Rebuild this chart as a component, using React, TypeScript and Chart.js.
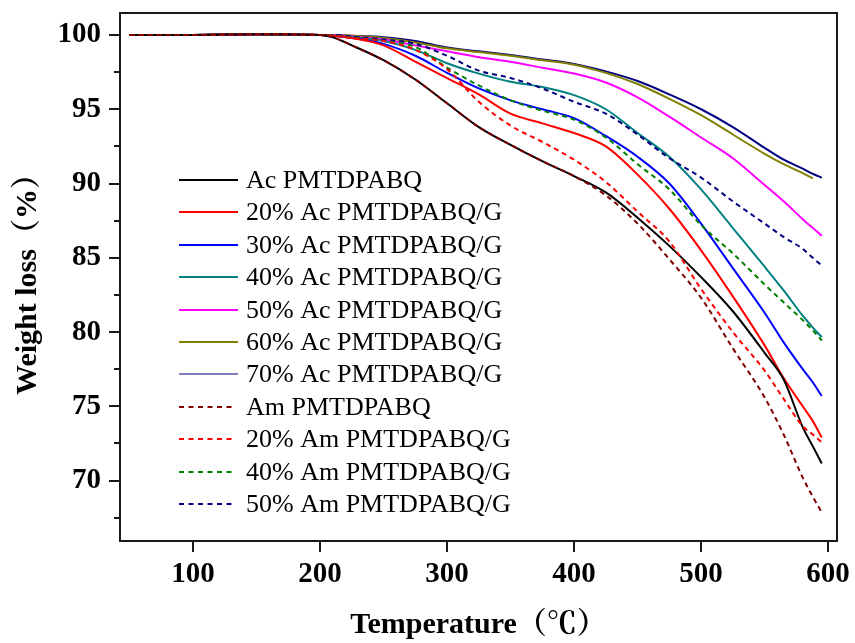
import { useEffect, useRef } from 'react';
import { Chart, registerables } from 'chart.js';

Chart.register(...registerables);

// Temperature (°C) sample points shared by all curves
const temperatures = [50, 100, 150, 200, 210, 225, 250, 275, 300, 325, 350, 375, 400, 425, 450, 475, 500, 525, 550, 565, 580, 588, 595];

// Weight loss (%) for each sample
const acPure = [100, 100, 100.05, 100, 99.85, 99.3, 98.3, 97.0, 95.4, 93.8, 92.6, 91.5, 90.5, 89.4, 87.7, 85.8, 83.7, 81.4, 78.6, 76.8, 73.6, 72.3, 71.15];
const ac20 = [100, 100, 100.05, 100, 99.95, 99.8, 99.3, 98.2, 97.1, 96.0, 94.7, 94.05, 93.4, 92.5, 90.6, 88.3, 85.5, 82.4, 79.1, 76.9, 75.0, 74.0, 72.9];
const ac30 = [100, 100, 100.05, 100, 99.95, 99.8, 99.4, 98.6, 97.45, 96.4, 95.6, 95.0, 94.4, 93.2, 91.8, 90.0, 87.3, 84.3, 81.3, 79.3, 77.5, 76.6, 75.69];
const ac40 = [100, 100, 100.05, 100, 99.97, 99.85, 99.6, 99.0, 98.1, 97.4, 96.85, 96.5, 95.95, 95.0, 93.4, 91.8, 89.6, 87.0, 84.4, 82.8, 81.1, 80.3, 79.66];
const ac50 = [100, 100, 100.05, 100, 100, 99.9, 99.7, 99.3, 98.9, 98.5, 98.2, 97.8, 97.4, 96.8, 95.8, 94.5, 93.1, 91.7, 89.9, 88.8, 87.6, 87.0, 86.49];
const ac60 = [100, 100, 100.05, 100, 100, 99.95, 99.8, 99.5, 99.1, 98.85, 98.6, 98.3, 98.0, 97.45, 96.7, 95.7, 94.6, 93.3, 92.0, 91.3, 90.7, 90.35, null];
const ac70 = [100, 100, 100.05, 100, 100, 99.95, 99.85, 99.6, 99.15, 98.9, 98.65, 98.35, 98.05, 97.55, 96.9, 96.0, 95.0, 93.8, 92.4, 91.6, 91.0, 90.65, 90.39];
const amPure = [100, 100, 100.05, 100, 99.85, 99.3, 98.3, 97.0, 95.4, 93.8, 92.6, 91.5, 90.5, 89.2, 87.3, 84.9, 82.3, 78.9, 75.6, 73.1, 70.2, 68.9, 67.86];
const am20 = [100, 100, 100.05, 100, 99.95, 99.8, 99.6, 99.0, 97.7, 95.5, 93.9, 92.8, 91.6, 90.1, 88.1, 86.1, 82.9, 80.0, 77.4, 75.5, 73.66, 73.1, 72.58];
const am40 = [100, 100, 100.05, 100, 99.97, 99.85, 99.6, 99.2, 97.8, 96.6, 95.6, 94.9, 94.3, 93.1, 91.3, 89.6, 87.2, 85.3, 83.2, 82.0, 80.8, 80.1, 79.43];
const am50 = [100, 100, 100.05, 100, 100, 99.9, 99.7, 99.4, 98.6, 97.6, 97.1, 96.4, 95.5, 94.7, 93.3, 91.7, 90.4, 88.8, 87.3, 86.4, 85.6, 85.0, 84.48];

const seriesLabels = [
  'Ac PMTDPABQ',
  '20% Ac PMTDPABQ/G',
  '30% Ac PMTDPABQ/G',
  '40% Ac PMTDPABQ/G',
  '50% Ac PMTDPABQ/G',
  '60% Ac PMTDPABQ/G',
  '70% Ac PMTDPABQ/G',
  'Am PMTDPABQ',
  '20% Am PMTDPABQ/G',
  '40% Am PMTDPABQ/G',
  '50% Am PMTDPABQ/G',
];
const seriesValues = [acPure, ac20, ac30, ac40, ac50, ac60, ac70, amPure, am20, am40, am50];
const seriesColors = ['#000000', '#ff0000', '#0000ff', '#008080', '#ff00ff', '#808000', '#000080', '#800000', '#ff0000', '#008000', '#000080'];
const seriesDashed = [false, false, false, false, false, false, false, true, true, true, true];

const xTicks = [100, 200, 300, 400, 500, 600];
const yTicks = [70, 75, 80, 85, 90, 95, 100];
const yMinorTicks = [67.5, 72.5, 77.5, 82.5, 87.5, 92.5, 97.5];

const SERIF = '"Liberation Serif", "Times New Roman", "Noto Serif CJK SC", serif';

const overlayPlugin = {
  id: 'overlay',
  afterDraw(chart: any) {
    const { ctx, chartArea: a, scales } = chart;
    const y = scales.y;
    ctx.save();
    // frame
    ctx.strokeStyle = '#1a1a1a';
    ctx.lineWidth = 2;
    ctx.strokeRect(a.left, a.top, a.right - a.left, a.bottom - a.top);
    // minor y ticks
    for (const v of yMinorTicks) {
      const py = Math.round(y.getPixelForValue(v));
      ctx.beginPath();
      ctx.moveTo(a.left - 6, py);
      ctx.lineTo(a.left, py);
      ctx.stroke();
    }
    // legend
    const lx0 = a.left + 59;
    const lx1 = a.left + 118;
    const tx = a.left + 126;
    const row0 = a.top + 167;
    const step = 32.4;
    ctx.font = '26px ' + SERIF;
    ctx.fillStyle = '#000';
    ctx.textAlign = 'left';
    ctx.textBaseline = 'alphabetic';
    seriesLabels.forEach((lab, i) => {
      const ly = Math.round(row0 + i * step);
      ctx.beginPath();
      ctx.strokeStyle = seriesColors[i];
      ctx.lineWidth = i === 6 ? 1.2 : 2;
      ctx.setLineDash(seriesDashed[i] ? [5, 4.5] : []);
      ctx.moveTo(lx0, ly);
      ctx.lineTo(seriesDashed[i] ? lx1 - 2 : lx1, ly);
      ctx.stroke();
      ctx.setLineDash([]);
      ctx.fillText(lab, tx, ly + 8);
    });
    ctx.restore();
  },
};

export default function App() {
  const ref = useRef<HTMLCanvasElement | null>(null);

  useEffect(() => {
    if (!ref.current) return;
    const datasets = seriesLabels.map((label, i) => ({
      label,
      data: temperatures.map((t, j) => ({ x: t, y: seriesValues[i][j] })),
      borderColor: seriesColors[i],
      backgroundColor: seriesColors[i],
      borderWidth: 2,
      borderDash: seriesDashed[i] ? [5, 4] : [],
      pointRadius: 0,
      fill: false,
      spanGaps: false,
      cubicInterpolationMode: 'monotone' as const,
      order: seriesDashed[i] ? 0 : 1,
    }));

    const chart = new Chart(ref.current, {
      type: 'line',
      data: { datasets },
      plugins: [overlayPlugin],
      options: {
        responsive: false,
        animation: false,
        events: [],
        layout: { padding: { top: 13, right: 18, left: 0, bottom: 0 } },
        plugins: { legend: { display: false }, tooltip: { enabled: false } },
        scales: {
          x: {
            type: 'linear',
            min: 42.5,
            max: 607,
            afterBuildTicks: (s: any) => {
              s.ticks = xTicks.map((v) => ({ value: v }));
            },
            afterFit: (s: any) => {
              s.height = 102;
              s.paddingLeft = 0;
              s.paddingRight = 0;
            },
            border: { display: false },
            grid: { display: true, drawOnChartArea: false, drawTicks: true, tickLength: 11, color: '#1a1a1a', lineWidth: 2 },
            ticks: { color: '#000', padding: 5, maxRotation: 0, font: { family: SERIF, size: 29, weight: 'bold' } },
            title: { display: true, text: 'Temperature（℃）', color: '#000', padding: { top: 0, bottom: 0 }, font: { family: SERIF, size: 30, weight: 'bold' } },
          },
          y: {
            type: 'linear',
            min: 65.93,
            max: 101.48,
            afterBuildTicks: (s: any) => {
              s.ticks = yTicks.map((v) => ({ value: v }));
            },
            afterFit: (s: any) => {
              s.width = 120;
              s.paddingTop = 0;
              s.paddingBottom = 0;
            },
            border: { display: false },
            grid: { display: true, drawOnChartArea: false, drawTicks: true, tickLength: 11, color: '#1a1a1a', lineWidth: 2 },
            ticks: { color: '#000', padding: 8, font: { family: SERIF, size: 29, weight: 'bold' } },
            title: { display: true, text: 'Weight loss（%）', color: '#000', padding: { top: 10, bottom: 0 }, font: { family: SERIF, size: 30, weight: 'bold' } },
          },
        },
      },
    });
    return () => chart.destroy();
  }, []);

  return (
    <div style={{ position: 'fixed', left: 0, top: 0, width: 855, height: 643, background: '#fff' }}>
      <canvas ref={ref} width={855} height={643} style={{ display: 'block' }} />
    </div>
  );
}
